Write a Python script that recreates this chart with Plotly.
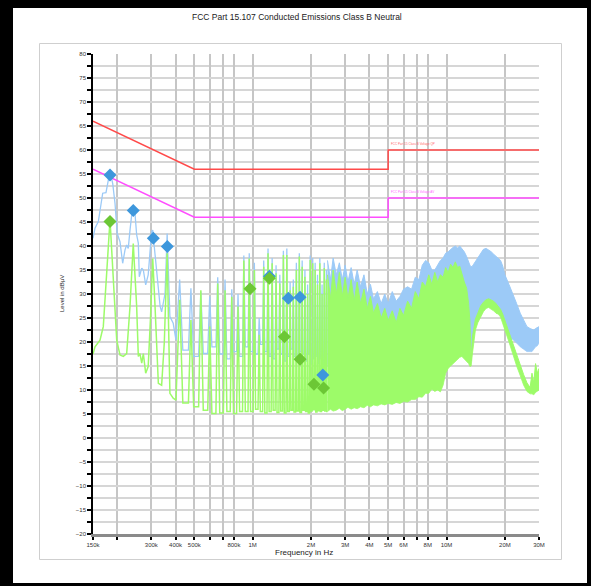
import math
import plotly.graph_objects as go

# ---------------- limit lines (kHz, dBuV) ----------------
QP_LIMIT_KHZ = [150, 500, 5000, 5000, 30000]
QP_LIMIT_DB = [66, 56, 56, 60, 60]
AV_LIMIT_KHZ = [150, 500, 5000, 5000, 30000]
AV_LIMIT_DB = [56, 46, 46, 50, 50]

# ---------------- peak scan (blue), resolved low band ----------------
BLUE_LOW_KHZ = [150, 153.6, 159.8, 164.4, 168.3, 175, 177.8, 183.6, 189.6, 194.8,
                200, 206.7, 213.4, 219.4, 223.8, 228, 232.8, 240.3, 247, 252,
                257, 260, 267.6, 272.7, 280.5, 289, 301, 305, 313, 320,
                333, 339, 353, 362, 374, 389, 402]
BLUE_LOW_DB = [41.6, 43.7, 45.1, 48.9, 51, 51.1, 52.4, 55.6, 53, 48.9,
               42.6, 40.9, 36.4, 39.2, 40.2, 39.5, 43.3, 48.3, 46.8, 42.3,
               40.6, 33.6, 35.4, 35, 31.9, 34, 43, 43.3, 38.5, 34.3,
               27.4, 26.3, 30.1, 42.6, 25.3, 23.9, 20.4]

# ---------------- average scan (green), resolved low band ----------------
GREEN_LOW_KHZ = [150, 153.6, 163, 169.5, 176.5, 183.6, 188, 194.8, 198.8, 206.7,
                 215, 223.8, 232.8, 242, 252, 257, 262, 267.6, 272.7, 280.5,
                 289, 297, 305, 313, 320, 326, 339, 350, 362, 374,
                 389, 402]
GREEN_LOW_DB = [17.5, 19, 20.4, 23.2, 34.4, 45.5, 38, 27.4, 20.4, 17.3,
                17, 17.6, 27.4, 40.5, 27.4, 17, 17.6, 15.6, 17.6, 13.5,
                14.9, 25, 37.4, 28, 20.4, 11.4, 11, 20, 38.5, 9.3,
                8.3, 7.9]

# ---------------- harmonic lines 420 kHz .. 2.4 MHz ----------------
HARM_KHZ = [420, 480, 540, 600, 660, 720, 780, 840, 900, 960,
            1020, 1080, 1140, 1200, 1260, 1320, 1380, 1440, 1500, 1560,
            1620, 1680, 1740, 1800, 1860, 1920, 1980, 2040, 2100, 2160,
            2220, 2280, 2340, 2400]
BLUE_PEAK_DB = [33, 31.2, 30.5, 29.5, 33.5, 33, 31, 30, 38, 38.5,
                36.5, 25, 37, 39.5, 37.5, 36, 34, 39, 39.5, 32.5,
                33, 36.5, 38.5, 37, 35, 32, 38, 37.5, 36.5, 34,
                37.5, 32, 36.5, 35]
GREEN_PEAK_DB = [28.8, 24.6, 30.8, 23.2, 32.2, 30.8, 29.4, 27.4, 37.0, 37.4,
                 35.0, 21.5, 35.7, 38.5, 36.4, 34.3, 32.2, 38.1, 38.1, 30.8,
                 31.5, 35.0, 37.8, 35.7, 33.6, 30.0, 37.1, 36.4, 35.0, 32.0,
                 36.4, 30.0, 35.4, 33.0]
# floor between neighbouring lines: where it starts and ends
GAP_START_KHZ = [436, 496, 556, 616, 676, 736, 796, 856, 916, 975,
                 1035, 1095, 1155, 1215, 1275, 1335, 1395, 1455, 1515, 1575,
                 1634, 1694, 1754, 1814, 1874, 1934, 1994, 2054, 2114, 2174,
                 2234, 2294, 2354, 2414]
GAP_END_KHZ = [466, 526, 586, 646, 706, 766, 826, 886, 946, 1005,
               1065, 1125, 1185, 1245, 1305, 1365, 1425, 1485, 1545, 1605,
               1666, 1726, 1786, 1846, 1906, 1966, 2026, 2086, 2146, 2206,
               2266, 2326, 2386, 2430]
BLUE_GAP_DB = [18.3, 17, 17.6, 19, 17.5, 16.5, 18, 17, 19, 18,
               17.5, 19.5, 18, 17, 16.5, 18.5, 17.5, 16, 17, 18.5,
               17, 16.5, 18, 17.5, 16, 17.5, 15.5, 16.5, 17, 15.5,
               16.5, 15, 16, 15.5]
GREEN_GAP_DB = [7.3, 6.5, 5.8, 5.1, 5.2, 5.5, 5.1, 5.5, 5.5, 5.5,
                6, 5.5, 5.2, 5.5, 5.8, 5.3, 5.6, 5.2, 5.5, 5.8,
                5.4, 5.6, 5.3, 5.8, 5.5, 5.2, 5.6, 5.9, 5.4, 5.7,
                5.5, 5.8, 5.6, 5.5]

# ---------------- dense band 2.4 MHz .. 30 MHz (envelopes) ----------------
BAND_KHZ = [2430, 2520, 2600, 2700, 2800, 2900, 3000, 3100, 3220, 3340,
            3460, 3600, 3750, 3900, 4050, 4200, 4400, 4600, 4800, 5000,
            5250, 5500, 5750, 6000, 6300, 6600, 6900, 7200, 7500, 7800,
            8100, 8400, 8700, 9000, 9300, 9600, 9900, 10200, 10500, 10800,
            11100, 11400, 11700, 12000, 12350, 12700, 13000, 13200, 13400, 13600,
            13800, 14100, 14500, 15000, 15500, 16000, 16500, 17000, 17500, 18000,
            18500, 19000, 19500, 20000, 21000, 22000, 23000, 24000, 25000, 26000,
            27000, 27600, 28200, 28800, 29400, 30000]
GREEN_TOP_DB = [34, 29, 35, 30, 34.5, 29.5, 33.5, 29, 33, 28.5,
                32.5, 28, 31, 27, 29.5, 26, 28, 25, 27, 24.5,
                26.5, 24, 27, 25.5, 28.5, 27, 30.5, 29, 32.5, 31.5,
                34, 32, 34.5, 32.5, 34, 33.5, 35.5, 34.5, 36.2, 35.5,
                36.7, 35.5, 35.8, 34, 32.5, 31.2, 28, 24.5, 16, 21,
                23, 24.8, 26, 27.5, 28.3, 28.8, 29, 28.8, 28.5, 28,
                27.5, 26.8, 25.8, 24.5, 22, 19.5, 17.5, 15.2, 13.2, 11.5,
                10.5, 13.5, 11.5, 15.5, 13.5, 14.5]
GREEN_BASE_DB = [5.5, 6, 5.6, 5.8, 6.2, 5.7, 6, 6.4, 6, 6.3,
                 6.1, 6.5, 6.3, 6.8, 6.5, 6.9, 6.7, 7.1, 6.9, 7.2,
                 7, 7.4, 7.2, 7.6, 7.5, 8, 8, 8.6, 8.5, 9.3,
                 9.3, 10.2, 9.7, 10, 9.6, 11, 13.5, 14.5, 15, 15.5,
                 15.8, 16.4, 16.8, 17, 16.5, 16, 15.5, 14.9, 15, 17.5,
                 20, 22.5, 24, 25.3, 26.3, 27, 27.2, 26.8, 26.5, 26,
                 25.8, 25.2, 24, 22.5, 20, 17.2, 15, 13, 11, 9.7,
                 9.2, 9.2, 9, 9.5, 9.8, 10]
BLUE_TOP_DB = [37, 33, 37.5, 34, 36.5, 33, 36, 32.5, 35.5, 32,
               35, 31.5, 34, 30, 32, 29, 30.5, 28, 30, 28,
               30.5, 28.5, 29.5, 31, 31.5, 31, 33.5, 33, 36, 37,
               36.5, 35, 35, 36, 37, 37.5, 38.5, 38.8, 39.3, 39.7,
               40, 39.6, 40, 39.5, 38.8, 37.8, 36.5, 36, 35.7, 35.8,
               36.2, 36.8, 37.5, 38.5, 39.3, 39.5, 39.2, 38.8, 38.3, 37.8,
               37.5, 37, 35.8, 34, 32, 30.1, 28, 26, 24.5, 23.2,
               22.8, 22.6, 22.5, 22.8, 23, 23.2]
BLUE_BASE_DB = [15, 15, 15, 15, 15, 15, 15, 15, 15, 15,
                15, 15, 15, 15, 15, 15, 15, 15, 15, 15,
                15, 15, 15, 15, 15, 15, 15, 15, 15, 15,
                15, 15, 15, 15.5, 16, 16, 16.5, 17, 18, 18,
                18.5, 19, 19.5, 20, 21, 22, 22, 20, 18, 19,
                21, 24, 25, 26, 27, 27.5, 27.7, 27.5, 27, 26.5,
                26, 25.5, 24.5, 23, 21, 20.5, 19.8, 19, 18.5, 18,
                18, 18, 18.5, 19, 19.2, 19.8]

# ---------------- final measurement results ----------------
QP_MARK_KHZ = [183.6, 242, 307, 362.6, 1219, 1527, 1755, 2300]
QP_MARK_DB = [54.8, 47.4, 41.6, 39.9, 33.7, 29.1, 29.3, 13.1]
AV_MARK_KHZ = [183.6, 969, 1219, 1457, 1755, 2070, 2320]
AV_MARK_DB = [45.1, 31.1, 33.3, 21.1, 16.4, 11.2, 10.4]

# ---------------- axis ticks ----------------
X_TICK_KHZ = [150, 200, 300, 400, 500, 600, 700, 800, 1000, 2000, 3000, 4000,
              5000, 6000, 7000, 8000, 10000, 20000, 30000]
X_TICK_TEXT = ["150k", "", "300k", "400k", "500k", "", "", "800k", "1M", "2M", "3M", "4M",
               "5M", "6M", "", "8M", "10M", "20M", "30M"]

BLUE = "#9ccaf7"
GREEN = "#9dfb69"
BLUE_MARK = "#3d97dc"
GREEN_MARK = "#6cc735"
FONT = "Liberation Sans, Arial, sans-serif"

W, H = 591, 586
L, R, T, B = 93, 52, 54, 52
PW, PH = W - L - R, H - T - B


def px(x):
    return (x - L) / PW


def py(y):
    return (H - B - y) / PH


def hz(khz_list):
    return [k * 1000 for k in khz_list]


def scan(low_khz, low_db, peak_db, gap_db):
    pts = (list(zip(low_khz, low_db)) + list(zip(HARM_KHZ, peak_db))
           + list(zip(GAP_START_KHZ, gap_db)) + list(zip(GAP_END_KHZ, gap_db)))
    pts.sort(key=lambda p: p[0])
    return hz([p[0] for p in pts]), [p[1] for p in pts]


fig = go.Figure()

# peak scan
bx, by = scan(BLUE_LOW_KHZ, BLUE_LOW_DB, BLUE_PEAK_DB, BLUE_GAP_DB)
fig.add_trace(go.Scatter(x=bx, y=by, mode="lines", line=dict(color=BLUE, width=1.3)))
fig.add_trace(go.Scatter(x=hz(BAND_KHZ), y=BLUE_BASE_DB, mode="lines", line=dict(color=BLUE, width=0.8)))
fig.add_trace(go.Scatter(x=hz(BAND_KHZ), y=BLUE_TOP_DB, mode="lines", fill="tonexty",
                         fillcolor=BLUE, line=dict(color=BLUE, width=1)))

# average scan
gx, gy = scan(GREEN_LOW_KHZ, GREEN_LOW_DB, GREEN_PEAK_DB, GREEN_GAP_DB)
fig.add_trace(go.Scatter(x=gx, y=gy, mode="lines", line=dict(color=GREEN, width=1.5)))
fig.add_trace(go.Scatter(x=hz(BAND_KHZ), y=GREEN_BASE_DB, mode="lines", line=dict(color=GREEN, width=0.8)))
fig.add_trace(go.Scatter(x=hz(BAND_KHZ), y=GREEN_TOP_DB, mode="lines", fill="tonexty",
                         fillcolor=GREEN, line=dict(color=GREEN, width=1)))

# limits
fig.add_trace(go.Scatter(x=hz(QP_LIMIT_KHZ), y=QP_LIMIT_DB, mode="lines",
                         line=dict(color="#ff4a4a", width=1.5)))
fig.add_trace(go.Scatter(x=hz(AV_LIMIT_KHZ), y=AV_LIMIT_DB, mode="lines",
                         line=dict(color="#ff4dff", width=1.5)))

# final results
fig.add_trace(go.Scatter(x=hz(QP_MARK_KHZ), y=QP_MARK_DB, mode="markers",
                         marker=dict(symbol="diamond", size=10, color=BLUE_MARK)))
fig.add_trace(go.Scatter(x=hz(AV_MARK_KHZ), y=AV_MARK_DB, mode="markers",
                         marker=dict(symbol="diamond", size=10, color=GREEN_MARK)))

grid_h = "#d6d6d6"
grid_v = "#c6c6c6"

fig.update_xaxes(
    type="log", range=[math.log10(150e3), math.log10(30e6)],
    tickvals=hz(X_TICK_KHZ), ticktext=X_TICK_TEXT,
    showgrid=True, gridcolor=grid_v, gridwidth=1.5,
    showline=True, linecolor="#8a8a8a", linewidth=2.5,
    ticks="outside", ticklen=3, tickcolor="#000", tickwidth=1.5,
    tickfont=dict(size=6, color="#333", family=FONT),
    zeroline=False,
)
fig.update_yaxes(
    range=[-20, 80], dtick=5, tick0=0,
    showgrid=True, gridcolor=grid_h, gridwidth=1.5,
    minor=dict(dtick=2.5, showgrid=True, gridcolor=grid_h, gridwidth=1.5,
               ticks="outside", ticklen=4, tickcolor="#000", tickwidth=1.5),
    showline=True, linecolor="#000", linewidth=1.5,
    ticks="outside", ticklen=4, tickcolor="#000", tickwidth=1.5,
    tickfont=dict(size=6, color="#333", family=FONT),
    zeroline=False,
)

shapes = [
    # outer frame
    dict(type="rect", xref="paper", yref="paper", x0=px(0), x1=px(W), y0=py(0), y1=py(8),
         fillcolor="#000", line=dict(width=0), layer="above"),
    dict(type="rect", xref="paper", yref="paper", x0=px(0), x1=px(13), y0=py(0), y1=py(H),
         fillcolor="#000", line=dict(width=0), layer="above"),
    dict(type="rect", xref="paper", yref="paper", x0=px(0), x1=px(W), y0=py(583), y1=py(H),
         fillcolor="#000", line=dict(width=0), layer="above"),
    dict(type="rect", xref="paper", yref="paper", x0=px(587), x1=px(W), y0=py(0), y1=py(H),
         fillcolor="#000", line=dict(width=0), layer="above"),
    # chart panel border
    dict(type="rect", xref="paper", yref="paper", x0=px(39.5), x1=px(561.5), y0=py(43.5), y1=py(559.5),
         line=dict(color="#cfcfcf", width=1), layer="below"),
]

annotations = [
    dict(text="FCC Part 15.107 Conducted Emissions Class B Neutral", x=px(297), y=py(17),
         xref="paper", yref="paper", showarrow=False, xanchor="center", yanchor="middle",
         font=dict(size=8.5, color="#222", family=FONT)),
    dict(text="Frequency in Hz", x=px(304), y=py(552), xref="paper", yref="paper",
         showarrow=False, xanchor="center", yanchor="middle",
         font=dict(size=8, color="#222", family=FONT)),
    dict(text="Level in dBµV", x=px(62), y=py(294), xref="paper", yref="paper",
         showarrow=False, textangle=-90, xanchor="center", yanchor="middle",
         font=dict(size=6, color="#222", family=FONT)),
    dict(text="FCC Part 15 Class B Voltage QP", x=math.log10(5.02e6), y=60.4,
         xref="x", yref="y", showarrow=False, xanchor="left", yanchor="bottom",
         font=dict(size=3, color="#ff6a6a", family=FONT)),
    dict(text="FCC Part 15 Class B Voltage AV", x=math.log10(5.02e6), y=50.4,
         xref="x", yref="y", showarrow=False, xanchor="left", yanchor="bottom",
         font=dict(size=3, color="#ff6aff", family=FONT)),
]

fig.update_layout(
    width=W, height=H,
    margin=dict(l=L, r=R, t=T, b=B),
    paper_bgcolor="#fff", plot_bgcolor="#fff",
    showlegend=False,
    shapes=shapes, annotations=annotations,
)

fig.write_html("out.html")
